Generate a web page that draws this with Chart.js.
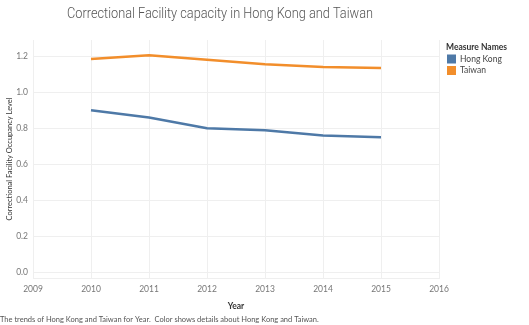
<!DOCTYPE html>
<html>
<head>
<meta charset="utf-8">
<script src="https://cdn.jsdelivr.net/npm/chart.js@4"></script>
<style>
  html, body { margin: 0; padding: 0; background: #fff; }
  #wrap { width: 529px; height: 325px; position: relative; }
</style>
</head>
<body>
<div id="wrap"><canvas id="grafico" width="529" height="325"></canvas></div>
<script>
// Datos
const years = [2010, 2011, 2012, 2013, 2014, 2015];
const hongKong = [0.90, 0.86, 0.80, 0.79, 0.76, 0.75];
const taiwan = [1.185, 1.205, 1.18, 1.155, 1.14, 1.135];
const seriesNames = ['Hong Kong', 'Taiwan'];
const seriesColors = ['#4e79a7', '#f28e2b'];

const fuente = "'Lato', 'Open Sans', sans-serif";

// Título, leyenda y pie de texto dibujados en el canvas
const textosExtra = {
    id: 'textosExtra',
    afterDraw(chart) {
        const ctx = chart.ctx;
        ctx.save();
        ctx.textBaseline = 'middle';
        ctx.textAlign = 'left';
        ctx.fillStyle = '#555';
        ctx.font = "300 14.5px 'Roboto', sans-serif";
        const titulo = 'Correctional Facility capacity in Hong Kong and Taiwan';
        // ajustar el ancho del título al de la referencia (~306px)
        const ancho = ctx.measureText(titulo).width;
        ctx.save();
        ctx.translate(67, 14);
        ctx.scale(306 / ancho, 1);
        ctx.fillText(titulo, 0, 0);
        ctx.restore();

        ctx.fillStyle = '#333';
        ctx.font = 'bold 8.5px ' + fuente;
        ctx.fillText('Measure Names', 446, 47);
        ctx.font = '8.5px ' + fuente;
        seriesNames.forEach((n, i) => {
            const y = 59 + i * 11.5;
            ctx.fillStyle = seriesColors[i];
            ctx.fillRect(447, y - 4.5, 9, 9);
            ctx.fillStyle = '#444';
            ctx.fillText(n, 460, y);
        });

        ctx.fillStyle = '#555';
        ctx.font = '7.5px ' + fuente;
        ctx.fillText('The trends of Hong Kong and Taiwan for Year.  Color shows details about Hong Kong and Taiwan.', 0, 320);
        ctx.restore();
    }
};

function crearGrafico() {
    const ctx = document.getElementById('grafico').getContext('2d');
    new Chart(ctx, {
        type: 'line',
        data: {
            labels: years,
            datasets: [
                {
                    label: seriesNames[0],
                    data: years.map((y, i) => ({ x: y, y: hongKong[i] })),
                    borderColor: seriesColors[0],
                    borderWidth: 2.5,
                    pointRadius: 0,
                    tension: 0,
                    borderJoinStyle: 'round'
                },
                {
                    label: seriesNames[1],
                    data: years.map((y, i) => ({ x: y, y: taiwan[i] })),
                    borderColor: seriesColors[1],
                    borderWidth: 2.5,
                    pointRadius: 0,
                    tension: 0,
                    borderJoinStyle: 'round'
                }
            ]
        },
        options: {
            responsive: false,
            animation: false,
            layout: { padding: { top: 40, left: 0, right: 90, bottom: 14 } },
            plugins: {
                legend: { display: false },
                title: { display: false },
                tooltip: { enabled: false }
            },
            scales: {
                x: {
                    type: 'linear',
                    min: 2009,
                    max: 2016,
                    afterFit(axis) { axis.height = 33; },
                    grid: { color: '#efefef', drawTicks: false },
                    border: { color: '#efefef' },
                    ticks: {
                        stepSize: 1,
                        padding: 6,
                        color: '#777',
                        font: { size: 8.5, family: fuente },
                        callback: v => String(v)
                    },
                    title: {
                        display: true,
                        text: 'Year',
                        color: '#333',
                        padding: { top: 2, bottom: 0 },
                        font: { size: 8.5, weight: 'bold', family: fuente }
                    }
                },
                y: {
                    min: -0.03,
                    max: 1.29,
                    afterFit(axis) { axis.width = 33; },
                    afterBuildTicks(axis) {
                        axis.ticks = [0, 0.2, 0.4, 0.6, 0.8, 1.0, 1.2].map(v => ({ value: v }));
                    },
                    grid: { color: '#efefef', drawTicks: false },
                    border: { color: '#efefef' },
                    ticks: {
                        padding: 5,
                        color: '#777',
                        font: { size: 8.5, family: fuente },
                        callback: v => v.toFixed(1)
                    },
                    title: {
                        display: true,
                        text: 'Correctional Facility Occupancy Level',
                        color: '#333',
                        padding: { top: 5, bottom: 0 },
                        font: { size: 7.5, family: fuente }
                    }
                }
            }
        },
        plugins: [textosExtra]
    });
}

document.addEventListener('DOMContentLoaded', crearGrafico);
</script>
</body>
</html>
